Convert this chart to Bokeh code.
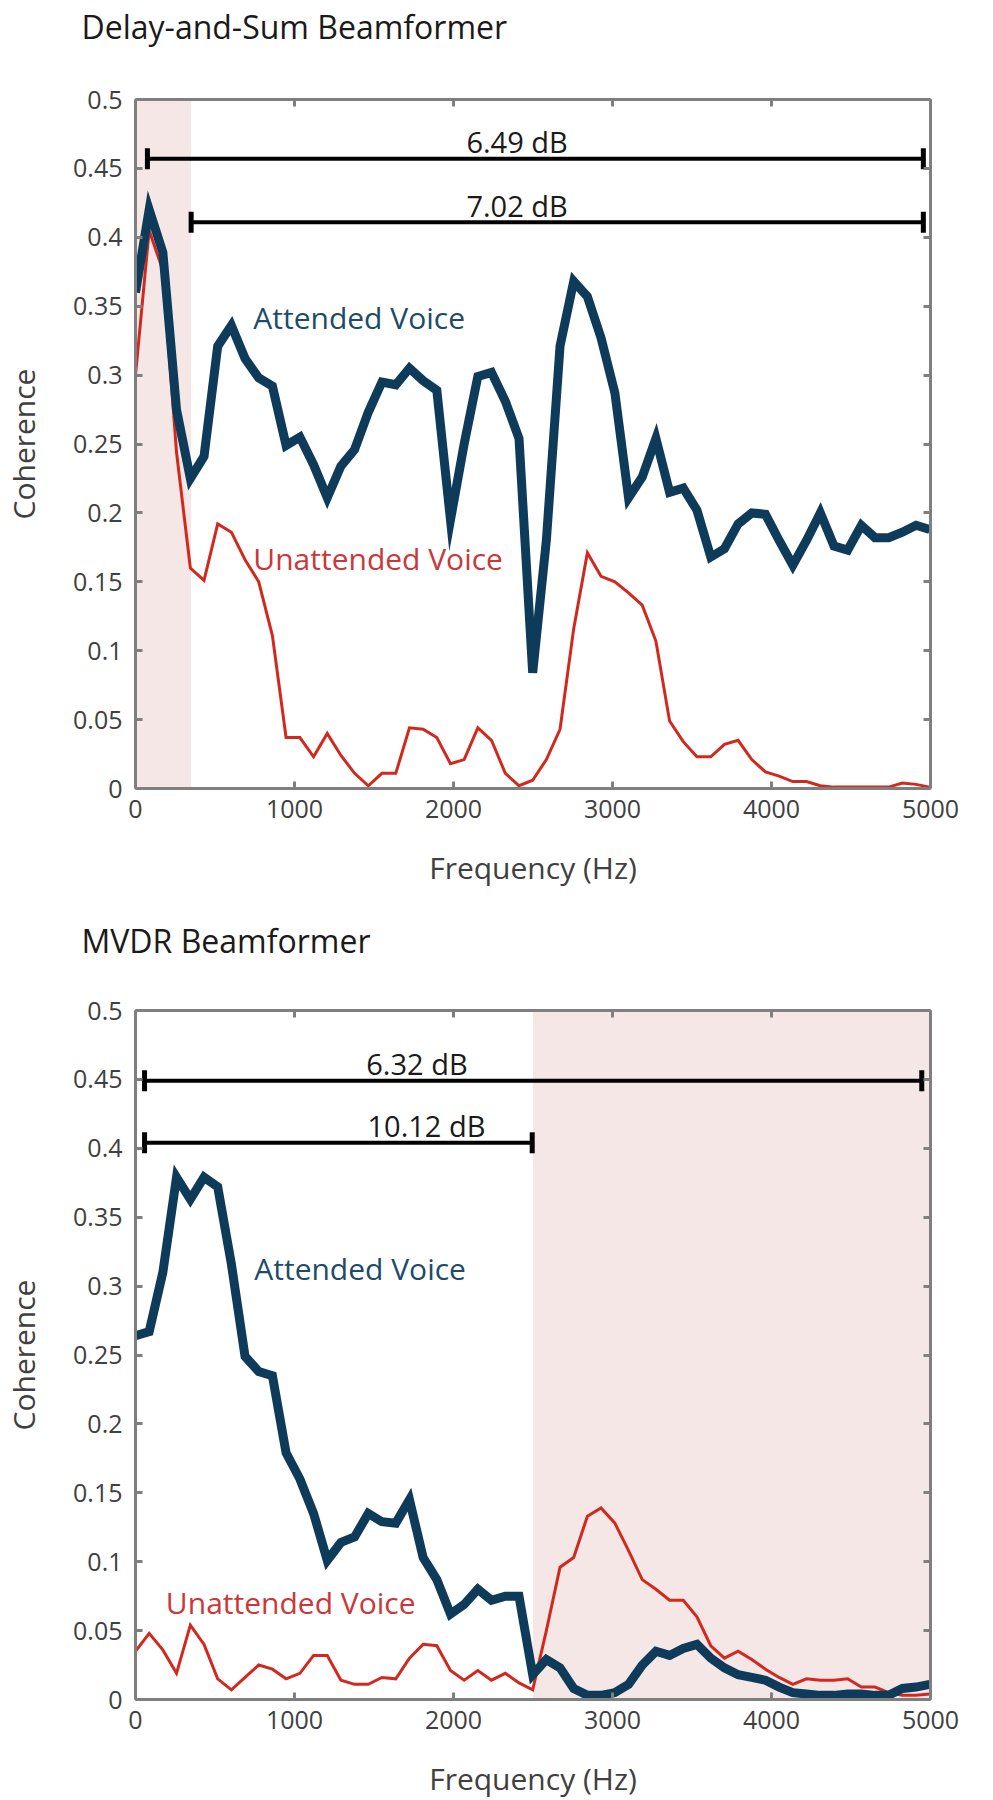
import math
from bokeh.plotting import figure
from bokeh.models import LinearAxis, FixedTicker, Range1d, Label, BoxAnnotation
from bokeh.layouts import column
from bokeh.embed import file_html
from bokeh.resources import INLINE

# ---------------- data ----------------
freq_hz = [0, 86, 172, 258, 345, 431, 517, 603, 689, 775, 861, 947, 1034, 1120, 1206,
           1292, 1378, 1464, 1550, 1637, 1723, 1809, 1895, 1981, 2067, 2153, 2239, 2326,
           2412, 2498, 2584, 2670, 2756, 2842, 2928, 3015, 3101, 3187, 3273, 3359, 3445,
           3531, 3618, 3704, 3790, 3876, 3962, 4048, 4134, 4220, 4307, 4393, 4479, 4565,
           4651, 4737, 4823, 4909, 4995]

dsb_attended = [0.36, 0.42, 0.389, 0.275, 0.225, 0.241, 0.321, 0.336, 0.312, 0.298,
                0.292, 0.249, 0.255, 0.235, 0.211, 0.234, 0.246, 0.273, 0.295, 0.293,
                0.305, 0.296, 0.289, 0.195, 0.25, 0.299, 0.302, 0.281, 0.254, 0.084,
                0.18, 0.321, 0.368, 0.357, 0.327, 0.287, 0.211, 0.226, 0.254, 0.215,
                0.218, 0.202, 0.168, 0.174, 0.192, 0.200, 0.199, 0.180, 0.162, 0.180,
                0.200, 0.176, 0.173, 0.191, 0.182, 0.182, 0.186, 0.191, 0.188]

dsb_unattended = [0.30, 0.405, 0.376, 0.244, 0.160, 0.151, 0.192, 0.186, 0.166, 0.150,
                  0.111, 0.037, 0.037, 0.023, 0.040, 0.024, 0.011, 0.002, 0.011, 0.011,
                  0.044, 0.043, 0.037, 0.018, 0.021, 0.044, 0.035, 0.011, 0.002, 0.006,
                  0.021, 0.043, 0.116, 0.171, 0.154, 0.150, 0.142, 0.133, 0.107, 0.049,
                  0.034, 0.023, 0.023, 0.032, 0.035, 0.021, 0.012, 0.009, 0.005, 0.005,
                  0.002, 0.001, 0.001, 0.001, 0.001, 0.001, 0.004, 0.003, 0.001]

mvdr_attended = [0.264, 0.267, 0.310, 0.379, 0.363, 0.379, 0.372, 0.316, 0.249, 0.238,
                 0.235, 0.179, 0.160, 0.135, 0.101, 0.114, 0.118, 0.135, 0.129, 0.128,
                 0.145, 0.103, 0.087, 0.062, 0.069, 0.080, 0.072, 0.075, 0.075, 0.018,
                 0.029, 0.023, 0.008, 0.003, 0.003, 0.005, 0.011, 0.025, 0.035, 0.032,
                 0.037, 0.040, 0.030, 0.023, 0.018, 0.016, 0.014, 0.009, 0.005, 0.004,
                 0.003, 0.003, 0.004, 0.004, 0.003, 0.003, 0.008, 0.009, 0.011]

mvdr_unattended = [0.035, 0.048, 0.036, 0.019, 0.054, 0.040, 0.015, 0.007, 0.016, 0.025,
                   0.022, 0.015, 0.019, 0.032, 0.032, 0.014, 0.011, 0.011, 0.016, 0.015,
                   0.030, 0.040, 0.039, 0.021, 0.014, 0.021, 0.014, 0.019, 0.012, 0.007,
                   0.050, 0.096, 0.103, 0.133, 0.139, 0.128, 0.108, 0.087, 0.080, 0.072,
                   0.072, 0.060, 0.039, 0.030, 0.035, 0.029, 0.022, 0.016, 0.011, 0.015,
                   0.014, 0.014, 0.015, 0.009, 0.009, 0.005, 0.003, 0.003, 0.004]

x_ticks = [0, 1000, 2000, 3000, 4000, 5000]
x_tick_labels = ["0", "1000", "2000", "3000", "4000", "5000"]
y_ticks = [0, 0.05, 0.1, 0.15, 0.2, 0.25, 0.3, 0.35, 0.4, 0.45, 0.5]
y_tick_labels = ["0", "0.05", "0.1", "0.15", "0.2", "0.25", "0.3", "0.35", "0.4", "0.45", "0.5"]

dsb_band = [0, 350]
dsb_bracket_start = [75, 350]
dsb_bracket_end = [4955, 4955]
dsb_bracket_level = [0.457, 0.411]
dsb_bracket_text = ["6.49 dB", "7.02 dB"]

mvdr_band = [2500, 5000]
mvdr_bracket_start = [57, 57]
mvdr_bracket_end = [4945, 2495]
mvdr_bracket_level = [0.449, 0.404]
mvdr_bracket_text = ["6.32 dB", "10.12 dB"]

# ---------------- style ----------------
FONT = "Open Sans"
BLUE = "#0f3b5a"
BLUE_TXT = "#1d4b68"
RED = "#d2291f"
RED_TXT = "#c9383a"
AXIS = "#7f7f7f"
TXT = "#404040"
SHADE = "#f6e7e7"
FRAME_H = 689
FRAME_W = 795


def style_axis(ax, labels):
    ax.axis_line_color = AXIS
    ax.axis_line_width = 3
    ax.major_tick_line_color = AXIS
    ax.major_tick_line_width = 3
    ax.major_tick_in = 7
    ax.major_tick_out = 0
    ax.minor_tick_line_color = None
    ax.major_label_text_font = FONT
    if labels:
        ax.major_label_text_color = TXT
        ax.major_label_text_font_size = "25px"
    else:
        ax.major_label_text_color = None
        ax.major_label_text_font_size = "1px"
        ax.major_label_standoff = 0
    ax.axis_label_text_font = FONT
    ax.axis_label_text_font_style = "normal"
    ax.axis_label_text_font_size = "30px"
    ax.axis_label_text_color = TXT


def make_chart(title, title_lh, att, unatt, band, b_start, b_end, b_level, b_text,
               b_text_x, att_pos, unatt_pos, top_border, bottom_border):
    p = figure(width=970, height=top_border + FRAME_H + bottom_border,
               frame_width=FRAME_W, frame_height=FRAME_H,
               x_range=Range1d(0, 5000), y_range=Range1d(0, 0.5),
               output_backend="svg", toolbar_location=None,
               min_border_left=135, min_border_right=40,
               min_border_top=top_border, min_border_bottom=bottom_border)
    p.outline_line_color = None
    p.xgrid.grid_line_color = None
    p.ygrid.grid_line_color = None
    p.background_fill_color = "white"
    p.border_fill_color = "white"

    # title block: the title line followed by an empty line lifts it above the frame
    p.title.text = title + "\n"
    p.title.text_font = FONT
    p.title.text_font_size = "32px"
    p.title.text_font_style = "normal"
    p.title.text_color = "#1a1a1a"
    p.title.text_line_height = title_lh
    p.title.align = "left"
    p.title.offset = -54
    p.title.standoff = 0

    xt = FixedTicker(ticks=x_ticks)
    yt = FixedTicker(ticks=y_ticks)
    xo = {t: l for t, l in zip(x_ticks, x_tick_labels)}
    yo = {t: l for t, l in zip(y_ticks, y_tick_labels)}

    p.xaxis.ticker = xt
    p.yaxis.ticker = yt
    p.xaxis.major_label_overrides = xo
    p.yaxis.major_label_overrides = yo
    p.xaxis.axis_label = "Frequency (Hz)"
    p.yaxis.axis_label = "Coherence"
    for ax in p.xaxis + p.yaxis:
        style_axis(ax, True)
    p.xaxis.major_label_standoff = 11
    p.xaxis.axis_label_standoff = 26
    p.yaxis.major_label_standoff = 13
    p.yaxis.axis_label_standoff = 26

    top = LinearAxis(ticker=xt)
    right = LinearAxis(ticker=yt)
    style_axis(top, False)
    style_axis(right, False)
    p.add_layout(top, "above")
    p.add_layout(right, "right")

    p.add_layout(BoxAnnotation(left=band[0], right=band[1], fill_color=SHADE,
                               fill_alpha=1.0, line_color=None, level="underlay"))

    p.line(freq_hz, unatt, line_color=RED, line_width=3, line_join="miter")
    p.line(freq_hz, att, line_color=BLUE, line_width=9, line_join="miter")

    # brackets
    p.segment(x0=b_start, y0=b_level, x1=b_end, y1=b_level,
              line_color="black", line_width=4)
    p.scatter(x=b_start + b_end, y=b_level + b_level, marker="dash",
              angle=math.pi / 2, size=21, line_color="black", line_width=5)
    for tx, ty, tt in zip(b_text_x, b_level, b_text):
        p.add_layout(Label(x=tx, y=ty, text=tt, text_font=FONT,
                           text_font_size="29px", text_color="#1a1a1a",
                           text_align="center", text_baseline="middle",
                           y_offset=17))

    p.add_layout(Label(x=att_pos[0], y=att_pos[1], text="Attended Voice",
                       text_font=FONT, text_font_size="30px", text_color=BLUE_TXT,
                       text_align="left", text_baseline="middle"))
    p.add_layout(Label(x=unatt_pos[0], y=unatt_pos[1], text="Unattended Voice",
                       text_font=FONT, text_font_size="30px", text_color=RED_TXT,
                       text_align="left", text_baseline="middle"))
    return p


p1 = make_chart("Delay-and-Sum Beamformer", 1.2, dsb_attended, dsb_unattended, dsb_band,
                dsb_bracket_start, dsb_bracket_end, dsb_bracket_level, dsb_bracket_text,
                [2400, 2400], (741, 0.342), (741, 0.167), 99, 110)
p2 = make_chart("MVDR Beamformer", 1.13, mvdr_attended, mvdr_unattended, mvdr_band,
                mvdr_bracket_start, mvdr_bracket_end, mvdr_bracket_level, mvdr_bracket_text,
                [1770, 1830], (747, 0.313), (191, 0.0706), 112, 95)

layout = column(p1, p2, spacing=0)
open("out.html", "w").write(file_html(layout, INLINE))
